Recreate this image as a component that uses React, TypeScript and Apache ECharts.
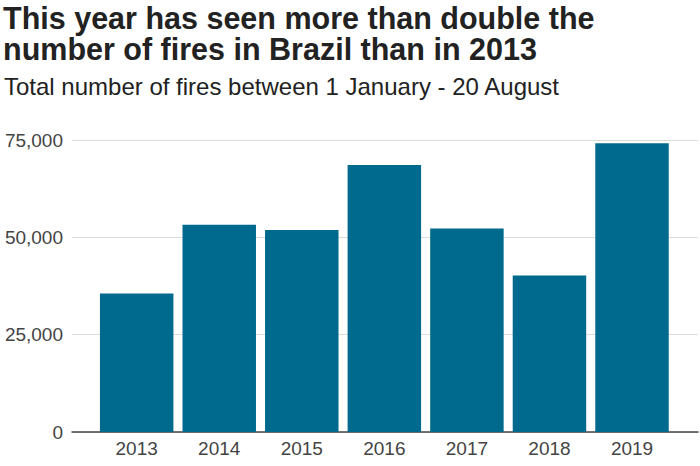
import React, { useEffect, useRef } from "react";
import * as echarts from "echarts";

const titleText = "This year has seen more than double the\nnumber of fires in Brazil than in 2013";
const subtitleText = "Total number of fires between 1 January - 20 August";
const years = ["2013", "2014", "2015", "2016", "2017", "2018", "2019"];
const fires = [35600, 53200, 51900, 68600, 52300, 40200, 74155];
const yTicks = [0, 25000, 50000, 75000];

const FONT = "'Liberation Sans', Arial, Helvetica, sans-serif";

export default function App() {
  const ref = useRef<HTMLDivElement>(null);
  useEffect(() => {
    if (!ref.current) return;
    const chart = echarts.init(ref.current, null, { renderer: "svg" });
    const yMin = yTicks[0];
    const yMax = yTicks[yTicks.length - 1];
    const yStep = yTicks[1] - yTicks[0];
    chart.setOption({
      animation: false,
      backgroundColor: "#ffffff",
      title: [
        {
          text: titleText,
          left: 3,
          top: 2,
          padding: 0,
          textStyle: {
            fontFamily: FONT,
            fontSize: 30.5,
            fontWeight: "bold",
            lineHeight: 31,
            color: "#222222",
          },
        },
        {
          text: subtitleText,
          left: 4,
          top: 74,
          padding: 0,
          textStyle: {
            fontFamily: FONT,
            fontSize: 24,
            fontWeight: "normal",
            lineHeight: 24,
            color: "#222222",
          },
        },
      ],
      grid: [
        { left: 72, right: 2, top: 140, bottom: 34 },
        { left: 95.4, right: 26.7, top: 140, bottom: 34 },
      ],
      xAxis: [
        {
          gridIndex: 0,
          type: "category",
          data: [""],
          axisLine: { show: true, lineStyle: { color: "#444444", width: 1.5 } },
          axisTick: { show: false },
          axisLabel: { show: false },
          splitLine: { show: false },
        },
        {
          gridIndex: 1,
          type: "category",
          data: years,
          axisLine: { show: false },
          axisTick: { show: false },
          axisLabel: {
            fontFamily: FONT,
            fontSize: 19,
            color: "#444444",
            margin: 7,
          },
        },
      ],
      yAxis: [
        {
          gridIndex: 0,
          type: "value",
          min: yMin,
          max: yMax,
          interval: yStep,
          axisLine: { show: false },
          axisTick: { show: false },
          axisLabel: {
            fontFamily: FONT,
            fontSize: 19,
            color: "#444444",
            margin: 9,
            formatter: (v: number) => v.toLocaleString("en-US"),
          },
          splitLine: { show: true, lineStyle: { color: "#dcdcdc", width: 1 } },
        },
        {
          gridIndex: 1,
          type: "value",
          min: yMin,
          max: yMax,
          interval: yStep,
          show: false,
          splitLine: { show: false },
        },
      ],
      series: [
        {
          type: "bar",
          xAxisIndex: 1,
          yAxisIndex: 1,
          data: fires,
          barCategoryGap: "11%",
          itemStyle: { color: "#00698e" },
          z: 3,
        },
      ],
    });
    return () => chart.dispose();
  }, []);
  return <div ref={ref} style={{ width: 700, height: 466, position: "absolute", left: 0, top: 0 }} />;
}
